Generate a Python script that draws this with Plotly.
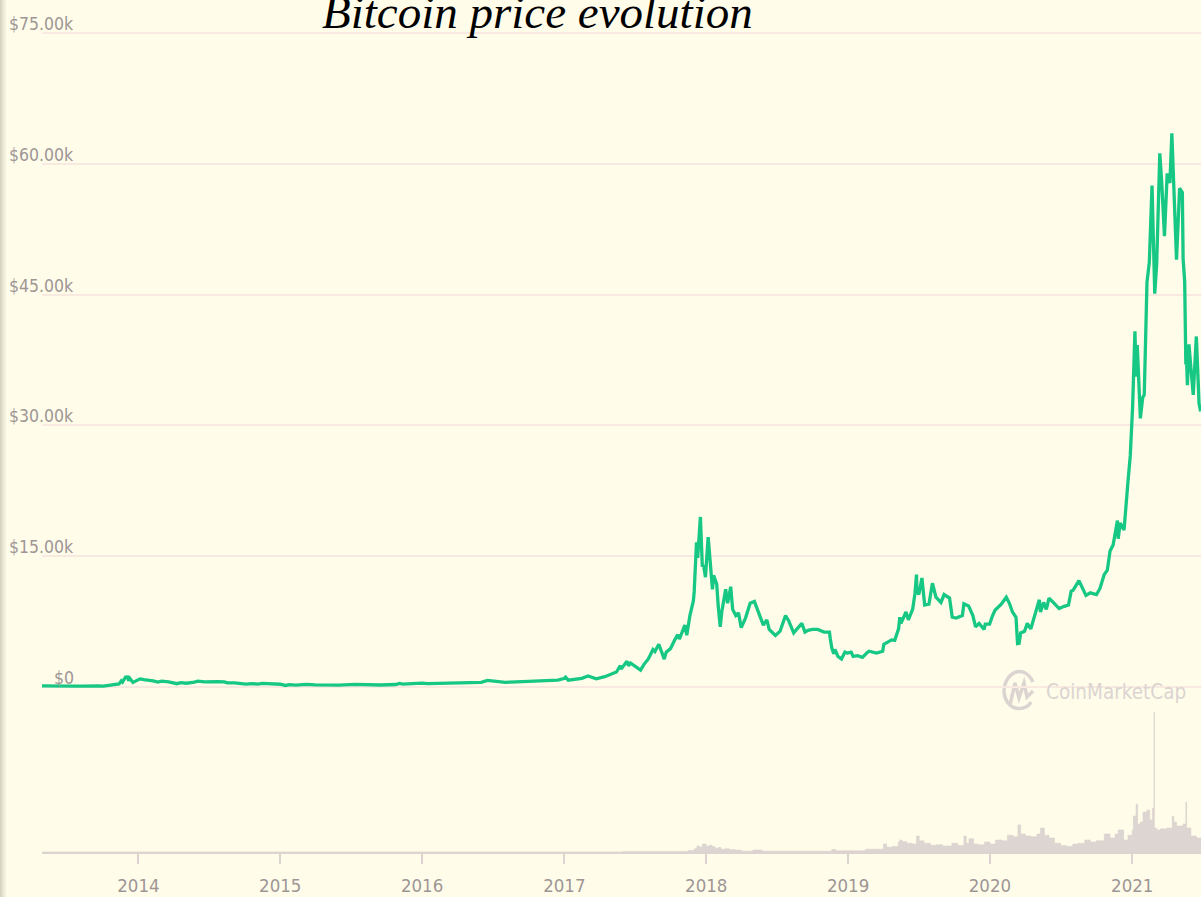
import plotly.graph_objects as go

# ---------------- data ----------------
price_dates = [
    "2013-04-28","2013-05-10","2013-06-01","2013-06-20","2013-07-05","2013-07-20","2013-08-10","2013-09-01",
    "2013-09-20","2013-10-03","2013-10-20","2013-11-05","2013-11-12","2013-11-18","2013-11-21","2013-11-29",
    "2013-12-04","2013-12-07","2013-12-10","2013-12-18","2013-12-26",
    "2014-01-05","2014-01-15","2014-01-28","2014-02-08","2014-02-20","2014-03-02","2014-03-20","2014-04-10",
    "2014-04-20","2014-05-05","2014-05-25","2014-06-03","2014-06-20","2014-07-05","2014-07-25","2014-08-10",
    "2014-08-18","2014-09-05","2014-09-22","2014-10-05","2014-10-20","2014-11-05","2014-11-15","2014-12-01",
    "2014-12-20",
    "2015-01-01","2015-01-14","2015-01-25","2015-02-10","2015-03-10","2015-04-01","2015-05-01","2015-06-01",
    "2015-07-12","2015-08-01","2015-08-20","2015-09-15","2015-10-25","2015-11-04","2015-11-12","2015-12-01",
    "2015-12-15",
    "2016-01-01","2016-01-15","2016-02-15","2016-03-15","2016-04-15","2016-05-15","2016-06-01","2016-06-17",
    "2016-07-01","2016-08-02","2016-08-15","2016-09-15","2016-10-15","2016-11-01","2016-11-25","2016-12-15",
    "2016-12-31",
    "2017-01-04","2017-01-11","2017-01-25","2017-02-15","2017-03-03","2017-03-24","2017-04-15","2017-05-01",
    "2017-05-15","2017-05-25","2017-05-27","2017-06-11","2017-06-15","2017-06-20","2017-07-01","2017-07-16",
    "2017-07-25","2017-08-05","2017-08-17","2017-08-22","2017-09-01","2017-09-15","2017-09-20","2017-10-01",
    "2017-10-12","2017-10-20","2017-10-24","2017-11-07","2017-11-12","2017-11-20","2017-11-29","2017-12-01",
    "2017-12-07","2017-12-10","2017-12-17","2017-12-22","2017-12-25","2017-12-30",
    "2018-01-06","2018-01-12","2018-01-17","2018-01-20","2018-01-28","2018-02-01","2018-02-06","2018-02-10",
    "2018-02-20","2018-02-25","2018-03-05","2018-03-10","2018-03-18","2018-03-25","2018-04-01","2018-04-12",
    "2018-04-24","2018-05-05","2018-05-15","2018-05-28","2018-06-06","2018-06-12","2018-06-28","2018-07-10",
    "2018-07-24","2018-08-01","2018-08-14","2018-08-20","2018-09-04","2018-09-12","2018-09-20","2018-10-01",
    "2018-10-15","2018-10-31","2018-11-14","2018-11-16","2018-11-20","2018-11-25","2018-11-28","2018-12-06",
    "2018-12-15","2018-12-24","2018-12-30",
    "2019-01-09","2019-01-14","2019-01-25","2019-02-07","2019-02-18","2019-02-24","2019-03-15","2019-03-31",
    "2019-04-03","2019-04-23","2019-05-01","2019-05-11","2019-05-14","2019-05-17","2019-05-30","2019-06-05",
    "2019-06-16","2019-06-22","2019-06-26","2019-06-27","2019-07-02","2019-07-10","2019-07-17","2019-07-28",
    "2019-08-06","2019-08-15","2019-08-28","2019-09-05","2019-09-19","2019-09-26","2019-10-06","2019-10-22",
    "2019-10-26","2019-11-07","2019-11-18","2019-11-25","2019-12-04","2019-12-17","2019-12-20","2019-12-31",
    "2020-01-07","2020-01-14","2020-01-30","2020-02-12","2020-02-20","2020-02-28","2020-03-08","2020-03-12",
    "2020-03-16","2020-03-20","2020-03-30","2020-04-06","2020-04-15","2020-04-29","2020-05-07","2020-05-10",
    "2020-05-18","2020-05-25","2020-06-01","2020-06-10","2020-06-27","2020-07-10","2020-07-21","2020-07-28",
    "2020-08-02","2020-08-17","2020-08-25","2020-09-04","2020-09-15","2020-10-01","2020-10-10","2020-10-21",
    "2020-10-29","2020-11-05","2020-11-13","2020-11-24","2020-11-26","2020-12-01","2020-12-11","2020-12-16",
    "2020-12-21","2020-12-27",
    "2021-01-02","2021-01-08","2021-01-11","2021-01-14","2021-01-22","2021-01-28","2021-02-01","2021-02-08",
    "2021-02-14","2021-02-21","2021-02-28","2021-03-05","2021-03-13","2021-03-18","2021-03-25","2021-04-01",
    "2021-04-08","2021-04-13","2021-04-18","2021-04-25","2021-05-03","2021-05-10","2021-05-12","2021-05-16",
    "2021-05-19","2021-05-21","2021-05-23","2021-05-27","2021-06-01","2021-06-07","2021-06-15","2021-06-22",
    "2021-06-26",
]
price_usd = [
    135,117,129,108,68,91,104,146,
    124,110,175,240,355,700,560,1140,
    1151,700,990,520,750,
    930,840,800,700,560,670,580,380,
    500,430,570,665,595,630,600,590,
    470,480,400,320,390,340,420,380,
    320,
    315,178,270,220,290,245,235,225,
    310,282,230,230,285,400,320,378,
    455,
    434,380,405,415,430,455,537,750,
    675,540,570,607,640,730,740,780,
    963,
    1130,780,890,1000,1260,940,1180,1420,
    1720,2450,2050,2960,2440,2750,2430,1930,
    2600,3220,4300,4080,4900,3200,4000,4400,
    5400,6000,5500,7100,5950,8200,9900,10900,
    16600,14800,19500,13800,14000,12600,
    17200,13900,11200,12800,11800,9200,6900,8600,
    11200,9600,11500,8900,8200,8500,6800,7900,
    9600,9800,8500,7100,7700,6600,5900,6400,
    8200,7600,6200,6500,7300,6300,6500,6600,
    6600,6300,6300,5600,4500,3800,4300,3500,
    3200,4000,3900,
    4000,3500,3600,3400,3900,4100,3900,4100,
    4900,5400,5350,6700,8000,7300,8600,7700,
    8900,10700,12900,11000,10600,12500,9400,9500,
    11900,10300,9700,10600,10200,8000,7900,8200,
    9550,9300,8200,6900,7300,6600,7200,7200,
    8100,8800,9500,10300,9600,8600,8000,4970,
    5000,6200,6400,7300,6650,8800,10000,8600,
    9700,8900,10200,9800,9000,9250,9400,11000,
    11100,12200,11400,10500,10800,10600,11300,12900,
    13400,15600,16300,19100,17000,18800,18000,21300,
    23500,26500,
    32100,40800,35600,39200,30800,33200,33500,46400,
    48700,57500,45100,48500,61200,57800,51700,58900,
    57800,63500,56200,49000,57200,56700,49100,46500,
    37000,37300,34600,39300,36600,33500,40200,32500,
    31600,
]

vol_dates = [
    "2013-04-28","2017-06-01","2017-11-15","2017-12-01","2017-12-08","2017-12-15","2017-12-22","2018-01-01",
    "2018-01-08","2018-01-16","2018-01-24","2018-02-01","2018-02-08","2018-02-20","2018-03-01","2018-03-15",
    "2018-04-01","2018-05-01","2018-05-25","2018-07-01","2018-11-20","2018-12-01","2019-02-15","2019-04-02",
    "2019-04-10","2019-04-25","2019-05-10","2019-05-14","2019-05-20","2019-06-01","2019-06-15","2019-06-26",
    "2019-07-03","2019-07-15","2019-08-01","2019-08-15","2019-09-01","2019-09-25","2019-10-10","2019-10-26",
    "2019-11-01","2019-11-08","2019-11-20","2019-12-01","2019-12-18","2020-01-01","2020-01-15","2020-02-01",
    "2020-02-15","2020-03-01","2020-03-13","2020-03-20","2020-04-01","2020-04-15","2020-05-01","2020-05-10",
    "2020-05-20","2020-06-01","2020-06-15","2020-07-01","2020-07-15","2020-08-01","2020-08-15","2020-09-01",
    "2020-09-15","2020-10-01","2020-10-21","2020-11-05","2020-11-18","2020-11-26","2020-12-10","2020-12-21",
    "2021-01-01","2021-01-04","2021-01-11","2021-01-15","2021-01-22","2021-01-29","2021-02-08","2021-02-15",
    "2021-02-22","2021-02-26","2021-02-27","2021-03-05","2021-03-15","2021-04-01","2021-04-14","2021-04-18",
    "2021-04-25","2021-05-12","2021-05-19","2021-05-21","2021-06-01","2021-06-15","2021-06-27",
]
vol_busd = [
    0.1,1.5,4,8,15,12,20,14,
    17,13,9,11,7,8,6,5,
    2,5,2,2,6,3,7,20,
    12,14,25,30,26,22,20,40,
    28,22,17,18,15,22,16,40,
    22,33,20,18,25,20,30,28,
    42,38,68,45,40,38,45,60,
    42,35,22,16,14,20,22,30,
    25,28,45,35,45,55,30,42,
    55,90,120,70,75,100,105,80,
    110,350,60,55,58,60,90,75,
    65,70,125,60,40,35,30,
]

year_ticks = ["2014-01-01","2015-01-01","2016-01-01","2017-01-01",
              "2018-01-01","2019-01-01","2020-01-01","2021-01-01"]
year_labels = ["2014","2015","2016","2017","2018","2019","2020","2021"]
price_ticks = [0, 15000, 30000, 45000, 60000, 75000]
price_labels = ["$0", "$15.00k", "$30.00k", "$45.00k", "$60.00k", "$75.00k"]

title_text = "Bitcoin price evolution"
watermark_text = "CoinMarketCap"

# ---------------- layout helpers ----------------
W, H = 1201, 897
ML, MR, MT, MB = 42, 0, 0, 45
PW = W - ML - MR
PH = H - MT - MB

def px_x(px):
    return (px - ML) / PW

def px_y(py):
    return 1 - (py - MT) / PH

BG = "#FFFDEA"
GREEN = "#17C784"
GRID = "#F8EAE0"
AXIS = "#DDD3D0"
LABEL = "#9E9595"
WM = "#DCD4D1"
FONT = "DejaVu Sans Condensed, Roboto, sans-serif"

fig = go.Figure()

fig.add_trace(go.Scatter(
    x=vol_dates, y=vol_busd, yaxis="y2", mode="lines",
    line=dict(shape="hv", width=0.6, color="#DAD1CD"),
    fill="tozeroy", fillcolor="#DDD5D1", hoverinfo="skip", showlegend=False,
))

fig.add_trace(go.Scatter(
    x=price_dates, y=price_usd, mode="lines",
    line=dict(color=GREEN, width=3.3),
    hoverinfo="skip", showlegend=False,
))

annotations = []
for v, lab in zip(price_ticks, price_labels):
    annotations.append(dict(
        xref="paper", yref="y", x=px_x(76), y=v, xanchor="right", yanchor="bottom",
        yshift=-3, text=lab, showarrow=False, font=dict(family=FONT, size=17.5, color=LABEL),
    ))

annotations.append(dict(
    xref="paper", yref="paper", x=px_x(537.5), y=px_y(40), xanchor="center", yanchor="bottom",
    text="<i>" + title_text + "</i>", showarrow=False,
    font=dict(family="Liberation Serif, Times New Roman, serif", size=47, color="#000000"),
))

annotations.append(dict(
    xref="paper", yref="paper", x=px_x(1044), y=px_y(692), xanchor="left", yanchor="middle",
    text=watermark_text, showarrow=False, font=dict(family=FONT, size=20.5, color=WM),
))

shapes = []
# left page shadow
for i, a in enumerate([0.30, 0.20, 0.12, 0.06]):
    shapes.append(dict(type="rect", xref="paper", yref="paper",
                       x0=px_x(i * 1.6), x1=px_x((i + 1) * 1.6), y0=px_y(H), y1=px_y(0),
                       fillcolor=f"rgba(120,120,100,{a})", line=dict(width=0), layer="above"))
# watermark logo
shapes.append(dict(type="path", xref="paper", yref="paper", layer="below",
                   path=(f"M {px_x(1031)} {px_y(702)} "
                         f"C {px_x(1026)} {px_y(712)} {px_x(1006)} {px_y(712)} {px_x(1004)} {px_y(692)} "
                         f"C {px_x(1004)} {px_y(672)} {px_x(1024)} {px_y(663)} {px_x(1033)} {px_y(682)}"),
                   line=dict(color=WM, width=3.5)))
shapes.append(dict(type="path", xref="paper", yref="paper", layer="below",
                   path=(f"M {px_x(1010)} {px_y(705)} L {px_x(1015)} {px_y(683)} L {px_x(1019)} {px_y(698)} "
                         f"L {px_x(1024)} {px_y(683)} L {px_x(1027)} {px_y(697)} L {px_x(1033)} {px_y(691)}"),
                   line=dict(color=WM, width=3.5)))

fig.update_layout(
    width=W, height=H,
    margin=dict(l=ML, r=MR, t=MT, b=MB, pad=0),
    paper_bgcolor=BG, plot_bgcolor=BG,
    showlegend=False,
    xaxis=dict(
        type="date", range=["2013-04-28", "2021-06-27"],
        tickvals=year_ticks, ticktext=year_labels,
        showgrid=False, zeroline=False,
        showline=True, linecolor=AXIS, linewidth=2,
        ticks="outside", ticklen=10, tickwidth=2, tickcolor=AXIS,
        ticklabelstandoff=6,
        tickfont=dict(family=FONT, size=18.5, color=LABEL),
    ),
    yaxis=dict(
        range=[-18922, 78784], tickvals=price_ticks, showticklabels=False,
        showgrid=True, gridcolor=GRID, gridwidth=1.5, zeroline=False, showline=False, ticks="",
    ),
    yaxis2=dict(
        range=[0, 2136], overlaying="y", side="right", showgrid=False, zeroline=False,
        showticklabels=False, showline=False, ticks="",
    ),
    annotations=annotations,
    shapes=shapes,
)

fig.write_html("out.html", config={"displayModeBar": False},
               post_script="document.body.style.margin='0';document.body.style.overflow='hidden';")
